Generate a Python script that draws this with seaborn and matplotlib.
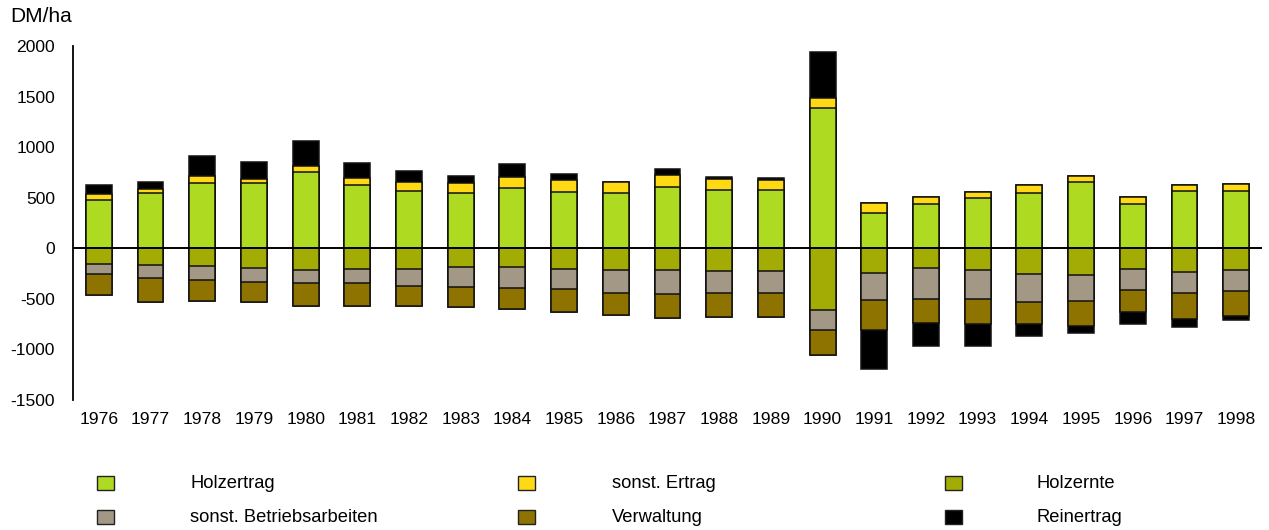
import matplotlib
matplotlib.use("Agg")
import matplotlib.pyplot as plt
import numpy as np
import seaborn as sns
from matplotlib.patches import Rectangle

# Werte in DM/ha
years = ["1976", "1977", "1978", "1979", "1980", "1981", "1982", "1983", "1984",
         "1985", "1986", "1987", "1988", "1989", "1990", "1991", "1992", "1993",
         "1994", "1995", "1996", "1997", "1998"]
holzertrag = [481, 547, 649, 649, 755, 623, 570, 544, 596, 557, 547, 603, 577,
              580, 1390, 353, 438, 494, 547, 652, 442, 570, 563]
sonst_ertrag = [53, 36, 63, 33, 56, 76, 86, 102, 112, 115, 105, 122, 105,
                99, 96, 92, 69, 66, 76, 63, 65, 53, 73]
holzernte = [-152, -168, -178, -191, -211, -201, -208, -181, -185, -201, -217, -217, -221,
             -224, -606, -244, -191, -217, -250, -260, -204, -234, -214]
sonst_betrieb = [-98, -129, -132, -142, -135, -145, -164, -198, -204, -201, -225, -231, -217,
                 -218, -205, -270, -307, -287, -277, -261, -205, -211, -208]
verwaltung = [-208, -233, -211, -201, -224, -221, -198, -204, -214, -227, -217, -241, -244,
              -237, -240, -297, -237, -247, -218, -250, -217, -250, -247]
reinertrag = [95, 73, 201, 175, 253, 144, 108, 72, 122, 63, 0, 56, 20,
              20, 455, -378, -234, -211, -125, -63, -119, -83, -43]

legend_labels = ["Holzertrag", "sonst. Ertrag", "Holzernte",
                 "sonst. Betriebsarbeiten", "Verwaltung", "Reinertrag"]

c_holz = "#AFDA22"
c_sonst = "#FFD914"
c_ernte = "#A3AB05"
c_betrieb = "#A39886"
c_verw = "#8E7300"
c_rein = "#000000"

sns.set_theme(style="white")
plt.rcParams["font.family"] = ["Liberation Sans", "DejaVu Sans"]
plt.rcParams["text.color"] = "black"

W, H = 1269, 530
fig = plt.figure(figsize=(W / 100, H / 100), dpi=100)
ax = fig.add_axes([73 / W, 1 - 400 / H, (1262 - 73) / W, (400 - 46) / H])

he = np.array(holzertrag)
se = np.array(sonst_ertrag)
hz = np.array(holzernte)
sb = np.array(sonst_betrieb)
vw = np.array(verwaltung)
re_ = np.array(reinertrag)

# gestapelt durch Überlagern: erst die Summe, dann die kleineren Teilsummen darüber
layers = [
    (he + se + np.clip(re_, 0, None), c_rein),
    (he + se, c_sonst),
    (he, c_holz),
    (hz + sb + vw + np.clip(re_, None, 0), c_rein),
    (hz + sb + vw, c_verw),
    (hz + sb, c_betrieb),
    (hz, c_ernte),
]
for vals, col in layers:
    sns.barplot(x=years, y=vals, color=col, saturation=1, width=0.5,
                edgecolor="#111111", linewidth=1.1, ax=ax)

ax.axhline(0, color="black", lw=1.4, zorder=5)

ax.set_xlim(-0.5, len(years) - 0.5)
ax.set_ylim(-1500, 2000)
yt = list(range(-1500, 2001, 500))
ax.set_yticks(yt)
ax.set_yticklabels([str(v) for v in yt])
ax.set_xlabel("")
ax.set_ylabel("")
sns.despine(ax=ax, top=True, right=True, bottom=True)
ax.spines["left"].set_color("black")
ax.spines["left"].set_linewidth(1.3)
ax.tick_params(axis="y", length=0, pad=13, labelsize=12.6, labelcolor="black")
ax.tick_params(axis="x", length=0, pad=9, labelsize=12.6, labelcolor="black")

fig.text(10 / W, 1 - 16 / H, "DM/ha", fontsize=15, ha="left", va="center")

# Legende (3 Spalten, 2 Zeilen)
leg_colors = [c_holz, c_sonst, c_ernte, c_betrieb, c_verw, c_rein]
patch_x = [97, 518, 945]
text_x = [190, 612, 1037]
row_y = [483, 517]
for i, (lab, col) in enumerate(zip(legend_labels, leg_colors)):
    r, c = divmod(i, 3)
    y = row_y[r]
    fig.add_artist(Rectangle((patch_x[c] / W, 1 - (y + 7) / H), 17 / W, 14 / H,
                             transform=fig.transFigure, facecolor=col,
                             edgecolor="#222222", lw=1))
    fig.text(text_x[c] / W, 1 - y / H, lab, fontsize=13.2, ha="left", va="center")

fig.savefig("out.png", dpi=100)
